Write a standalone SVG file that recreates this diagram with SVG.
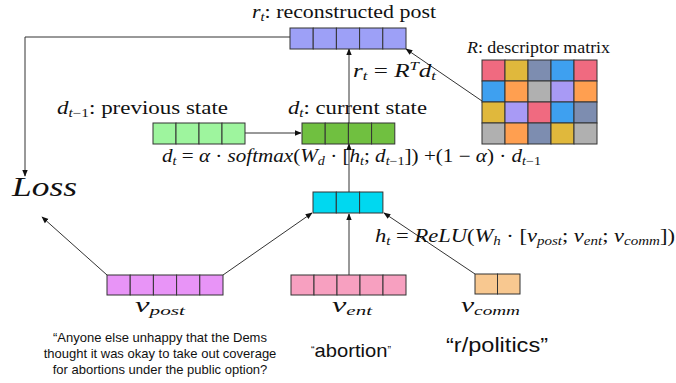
<svg xmlns="http://www.w3.org/2000/svg" width="676" height="383" viewBox="0 0 676 383">
  <style>
    .m { font-family: "Liberation Serif", "DejaVu Serif", serif; fill: #111; }
    .i { font-style: italic; }
    .s { font-family: "Liberation Sans", Arial, sans-serif; fill: #111; }
    .cell { stroke: #333; stroke-width: 1; }
    .conn { stroke: #333; stroke-width: 1; fill: none; }
  </style>
  <defs>
    <marker id="arr" viewBox="0 0 10 10" refX="9" refY="5" markerWidth="7" markerHeight="7" orient="auto-start-reverse" markerUnits="userSpaceOnUse">
      <path d="M0,1 L10,5 L0,9 z" fill="#111"/>
    </marker>
  </defs>

  <rect width="676" height="383" fill="#fff"/>

  <!-- connectors -->
  <g id="connectors">
    <polyline class="conn" points="290,37 25,37 25,176" marker-end="url(#arr)"/>
    <line class="conn" x1="482" y1="101" x2="406" y2="49" marker-end="url(#arr)"/>
    <line class="conn" x1="349" y1="123" x2="349" y2="49" marker-end="url(#arr)"/>
    <line class="conn" x1="245" y1="133" x2="301" y2="133" marker-end="url(#arr)"/>
    <line class="conn" x1="349" y1="192" x2="349" y2="144" marker-end="url(#arr)"/>
    <line class="conn" x1="107" y1="275" x2="42" y2="217" marker-end="url(#arr)"/>
    <line class="conn" x1="223" y1="275" x2="312" y2="213" marker-end="url(#arr)"/>
    <line class="conn" x1="349" y1="275" x2="349" y2="214" marker-end="url(#arr)"/>
    <line class="conn" x1="475" y1="274" x2="384" y2="213" marker-end="url(#arr)"/>
  </g>

  <!-- reconstructed post r_t -->
  <g id="r_t">
    <g class="cell" fill="#9da0f7">
      <rect x="290" y="28" width="23.2" height="21"/>
      <rect x="313.2" y="28" width="23.2" height="21"/>
      <rect x="336.4" y="28" width="23.2" height="21"/>
      <rect x="359.6" y="28" width="23.2" height="21"/>
      <rect x="382.8" y="28" width="23.2" height="21"/>
    </g>
    <text class="m" x="252" y="18" font-size="18" textLength="184" lengthAdjust="spacingAndGlyphs"><tspan class="i">r</tspan><tspan class="i" font-size="12" dy="3">t</tspan><tspan dy="-3">: reconstructed post</tspan></text>
    <text class="m" x="353" y="77" font-size="18" textLength="83" lengthAdjust="spacingAndGlyphs"><tspan class="i">r</tspan><tspan class="i" font-size="12" dy="3">t</tspan><tspan dy="-3">  =  </tspan><tspan class="i">R</tspan><tspan class="i" font-size="12" dy="-7">T</tspan><tspan class="i" dy="7">d</tspan><tspan class="i" font-size="12" dy="3">t</tspan></text>
  </g>

  <!-- descriptor matrix R -->
  <g id="R">
    <text class="m" x="467" y="53" font-size="16" textLength="143" lengthAdjust="spacingAndGlyphs"><tspan class="i">R</tspan>: descriptor matrix</text>
    <g class="cell">
      <rect x="482" y="60" width="23" height="21" fill="#f06a80"/>
      <rect x="505" y="60" width="23" height="21" fill="#e0b83c"/>
      <rect x="528" y="60" width="23" height="21" fill="#7d8db0"/>
      <rect x="551" y="60" width="23" height="21" fill="#3ea0f0"/>
      <rect x="574" y="60" width="23" height="21" fill="#f06a80"/>

      <rect x="482" y="81" width="23" height="21" fill="#3ea0f0"/>
      <rect x="505" y="81" width="23" height="21" fill="#ff9f50"/>
      <rect x="528" y="81" width="23" height="21" fill="#b0b0b0"/>
      <rect x="551" y="81" width="23" height="21" fill="#a89af5"/>
      <rect x="574" y="81" width="23" height="21" fill="#ff9f50"/>

      <rect x="482" y="102" width="23" height="21" fill="#e0b83c"/>
      <rect x="505" y="102" width="23" height="21" fill="#a89af5"/>
      <rect x="528" y="102" width="23" height="21" fill="#f06a80"/>
      <rect x="551" y="102" width="23" height="21" fill="#3ea0f0"/>
      <rect x="574" y="102" width="23" height="21" fill="#7d8db0"/>

      <rect x="482" y="123" width="23" height="21" fill="#b0b0b0"/>
      <rect x="505" y="123" width="23" height="21" fill="#ff9f50"/>
      <rect x="528" y="123" width="23" height="21" fill="#7d8db0"/>
      <rect x="551" y="123" width="23" height="21" fill="#e0b83c"/>
      <rect x="574" y="123" width="23" height="21" fill="#b0b0b0"/>
    </g>
  </g>

  <!-- previous state d_{t-1} -->
  <g id="d_prev">
    <g class="cell" fill="#9ef59e">
      <rect x="153" y="123" width="23" height="21"/>
      <rect x="176" y="123" width="23" height="21"/>
      <rect x="199" y="123" width="23" height="21"/>
      <rect x="222" y="123" width="23" height="21"/>
    </g>
    <text class="m" x="57" y="114" font-size="18" textLength="171" lengthAdjust="spacingAndGlyphs"><tspan class="i">d</tspan><tspan class="i" font-size="12" dy="3">t</tspan><tspan font-size="12">−1</tspan><tspan dy="-3">: previous state</tspan></text>
  </g>

  <!-- current state d_t -->
  <g id="d_t">
    <g class="cell" fill="#70c040">
      <rect x="302" y="123" width="23.2" height="21"/>
      <rect x="325.2" y="123" width="23.2" height="21"/>
      <rect x="348.4" y="123" width="23.2" height="21"/>
      <rect x="371.6" y="123" width="23.2" height="21"/>
    </g>
    <text class="m" x="288" y="114" font-size="18" textLength="139" lengthAdjust="spacingAndGlyphs"><tspan class="i">d</tspan><tspan class="i" font-size="12" dy="3">t</tspan><tspan dy="-3">: current state</tspan></text>
    <text class="m" x="162" y="162" font-size="18" textLength="379" lengthAdjust="spacingAndGlyphs"><tspan class="i">d</tspan><tspan class="i" font-size="12" dy="3">t</tspan><tspan dy="-3"> = </tspan><tspan class="i">α</tspan><tspan> · </tspan><tspan class="i">softmax</tspan><tspan>(</tspan><tspan class="i">W</tspan><tspan class="i" font-size="12" dy="3">d</tspan><tspan dy="-3"> · [</tspan><tspan class="i">h</tspan><tspan class="i" font-size="12" dy="3">t</tspan><tspan dy="-3">; </tspan><tspan class="i">d</tspan><tspan class="i" font-size="12" dy="3">t</tspan><tspan font-size="12">−1</tspan><tspan dy="-3">]) +(1 − </tspan><tspan class="i">α</tspan><tspan>) · </tspan><tspan class="i">d</tspan><tspan class="i" font-size="12" dy="3">t</tspan><tspan font-size="12">−1</tspan></text>
  </g>

  <!-- hidden h_t -->
  <g id="h_t">
    <g class="cell" fill="#00d8f0">
      <rect x="313" y="192" width="23.3" height="21"/>
      <rect x="336.3" y="192" width="23.3" height="21"/>
      <rect x="359.6" y="192" width="23.3" height="21"/>
    </g>
    <text class="m" x="375" y="242" font-size="18" textLength="300" lengthAdjust="spacingAndGlyphs"><tspan class="i">h</tspan><tspan class="i" font-size="12" dy="3">t</tspan><tspan dy="-3"> = </tspan><tspan class="i">ReLU</tspan><tspan>(</tspan><tspan class="i">W</tspan><tspan class="i" font-size="12" dy="3">h</tspan><tspan dy="-3"> · [</tspan><tspan class="i">v</tspan><tspan class="i" font-size="12" dy="3">post</tspan><tspan dy="-3">; </tspan><tspan class="i">v</tspan><tspan class="i" font-size="12" dy="3">ent</tspan><tspan dy="-3">; </tspan><tspan class="i">v</tspan><tspan class="i" font-size="12" dy="3">comm</tspan><tspan dy="-3">])</tspan></text>
  </g>

  <!-- loss -->
  <g id="loss">
    <text class="m i" x="12" y="196" font-size="27" textLength="65" lengthAdjust="spacingAndGlyphs">Loss</text>
  </g>

  <!-- post embedding -->
  <g id="v_post">
    <g class="cell" fill="#e894f7">
      <rect x="107" y="275" width="23.2" height="20"/>
      <rect x="130.2" y="275" width="23.2" height="20"/>
      <rect x="153.4" y="275" width="23.2" height="20"/>
      <rect x="176.6" y="275" width="23.2" height="20"/>
      <rect x="199.8" y="275" width="23.2" height="20"/>
    </g>
    <text class="m" x="135" y="312" font-size="20" textLength="50" lengthAdjust="spacingAndGlyphs"><tspan class="i">v</tspan><tspan class="i" font-size="13" dy="3">post</tspan></text>
    <g class="s" font-size="13" text-anchor="middle">
      <text x="160" y="342">“Anyone else unhappy that the Dems</text>
      <text x="160" y="358">thought it was okay to take out coverage</text>
      <text x="160" y="374">for abortions under the public option?</text>
    </g>
  </g>

  <!-- entity embedding -->
  <g id="v_ent">
    <g class="cell" fill="#f7a0c0">
      <rect x="291" y="275" width="23" height="20"/>
      <rect x="314" y="275" width="23" height="20"/>
      <rect x="337" y="275" width="23" height="20"/>
      <rect x="360" y="275" width="23" height="20"/>
      <rect x="383" y="275" width="23" height="20"/>
    </g>
    <text class="m" x="332" y="312" font-size="20" textLength="40" lengthAdjust="spacingAndGlyphs"><tspan class="i">v</tspan><tspan class="i" font-size="13" dy="3">ent</tspan></text>
    <text class="s" x="311" y="357" font-size="19" textLength="80" lengthAdjust="spacingAndGlyphs"><tspan font-size="10" dy="-3">“</tspan><tspan dy="3">abortion</tspan><tspan font-size="10" dy="-3">”</tspan></text>
  </g>

  <!-- community embedding -->
  <g id="v_comm">
    <g class="cell" fill="#f8c890">
      <rect x="475" y="274" width="22.5" height="20"/>
      <rect x="497.5" y="274" width="22.5" height="20"/>
    </g>
    <text class="m" x="461" y="312" font-size="20" textLength="59" lengthAdjust="spacingAndGlyphs"><tspan class="i">v</tspan><tspan class="i" font-size="13" dy="3">comm</tspan></text>
    <text class="s" x="446" y="352" font-size="20" textLength="102" lengthAdjust="spacingAndGlyphs">“r/politics”</text>
  </g>
</svg>
